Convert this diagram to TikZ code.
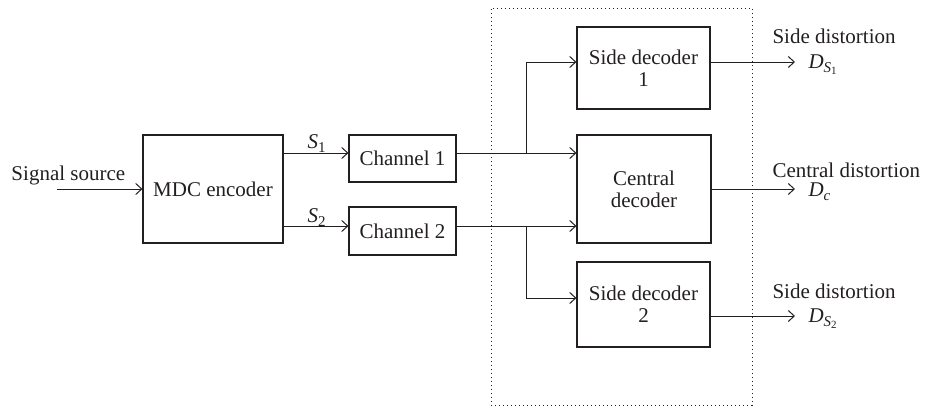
\documentclass[tikz,border=0pt]{standalone}
\usepackage{fontspec}
\setmainfont{Liberation Serif}
\usetikzlibrary{arrows.meta,calc}
\definecolor{ink}{RGB}{35,31,32}
\newcommand{\subone}[2]{\textit{#1}\raisebox{-4pt}{\fontsize{15}{15}\selectfont #2}}
\newcommand{\subtwo}[2]{\textit{D}\raisebox{-4pt}{\fontsize{15}{15}\selectfont\textit{#1}\raisebox{-2.5pt}{\fontsize{11}{11}\selectfont #2}}}
\begin{document}
\begin{tikzpicture}[x=1pt,y=-1pt,line width=1pt,
  >={Straight Barb[length=6pt,width=11pt]},
  every node/.style={font=\fontsize{21}{22}\selectfont, text=ink},
  box/.style={draw=ink, line width=1.1pt, inner sep=0pt, align=center},
  lbl/.style={anchor=base west, inner sep=0pt},
  conn/.style={draw=ink, ->}]
\useasboundingbox (0,0) rectangle (927,407);

% group
\node[draw=ink, dash pattern=on 1pt off 3pt, line width=1pt, minimum width=261pt, minimum height=397pt, inner sep=0pt] (grp) at (621.5,206.5) {};

% boxes
\node[box, minimum width=140pt, minimum height=108pt] (mdc) at (213,189) {MDC encoder};
\node[box, minimum width=107pt, minimum height=47pt] (ch1) at (402.5,158.5) {Channel 1};
\node[box, minimum width=107pt, minimum height=48pt] (ch2) at (402.5,231) {Channel 2};
\node[box, minimum width=133pt, minimum height=82pt] (sd1) at (643.5,68) {Side decoder\\1};
\node[box, minimum width=134pt, minimum height=108pt] (cd) at (644,189) {Central\\decoder};
\node[box, minimum width=133pt, minimum height=85pt] (sd2) at (643.5,304.5) {Side decoder\\2};

% labels
\node[lbl] (src) at (11,180) {Signal source};
\node[lbl] (s1) at (307,148) {\subone{S}{1}};
\node[lbl] (s2) at (307,222) {\subone{S}{2}};
\node[lbl] (l1) at (772,43) {Side distortion};
\node[lbl] (d1) at (808,68) {\subtwo{S}{1}};
\node[lbl] (lc) at (772,177) {Central distortion};
\node[lbl] (dc) at (808,196) {\textit{D}\raisebox{-4pt}{\fontsize{15}{15}\selectfont\textit{c}}};
\node[lbl] (l2) at (772,298) {Side distortion};
\node[lbl] (d2) at (808,322) {\subtwo{S}{2}};

% coordinates
\coordinate (srcin) at (57,189);
\coordinate (c1in) at ([yshift=5.5pt]ch1.west);
\coordinate (c2in) at ([yshift=5pt]ch2.west);
\coordinate (j1) at (526,153);
\coordinate (j2) at (526,226);
\coordinate (o1) at (795,62);
\coordinate (oc) at (795,189);
\coordinate (o2) at (795,316);

% connectors
\draw[conn] (srcin) -- (mdc.west);
\draw[conn] (mdc.east |- c1in) -- (c1in);
\draw[conn] (mdc.east |- c2in) -- (c2in);
\draw[conn] ([yshift=5.5pt]ch1.east) -- (cd.west |- j1);
\draw[conn] (j1) |- ([yshift=6pt]sd1.west);
\draw[conn] ([yshift=5pt]ch2.east) -- (cd.west |- j2);
\draw[conn] (j2) |- ([yshift=6.5pt]sd2.west);
\draw[conn] ([yshift=6pt]sd1.east) -- (o1);
\draw[conn] (cd.east) -- (oc);
\draw[conn] ([yshift=-11.5pt]sd2.east) -- (o2);
\end{tikzpicture}
\end{document}
